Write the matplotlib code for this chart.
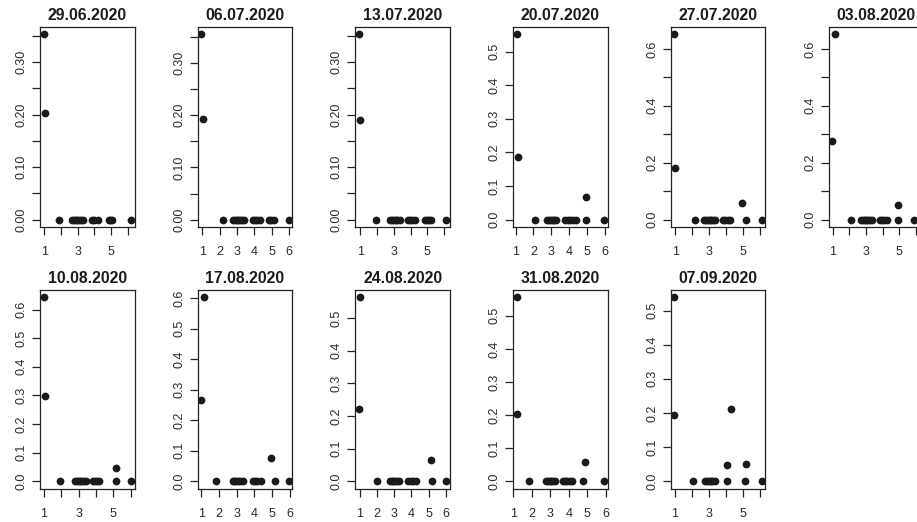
import numpy as np
import matplotlib
matplotlib.use("Agg")
import matplotlib.pyplot as plt

plt.rcParams['font.family'] = ['Liberation Sans', 'DejaVu Sans']

# one panel per week
titles = ["29.06.2020", "06.07.2020", "13.07.2020", "20.07.2020", "27.07.2020", "03.08.2020",
          "10.08.2020", "17.08.2020", "24.08.2020", "31.08.2020", "07.09.2020"]

# jittered group positions (groups 1..6) and values
x_vals = [
    [0.94, 1.04, 1.86, 2.68, 2.78, 2.88, 2.98, 3.08, 3.18, 3.30, 3.85, 3.95, 4.22, 4.85, 4.95, 5.08, 6.20],
    [0.93, 1.05, 2.20, 2.77, 2.87, 2.97, 3.07, 3.17, 3.27, 3.38, 3.91, 4.03, 4.15, 4.30, 4.82, 4.95, 5.10, 5.97],
    [0.92, 0.98, 1.96, 2.80, 2.90, 3.00, 3.10, 3.20, 3.35, 3.83, 3.95, 4.10, 4.29, 4.83, 4.95, 5.10, 5.23, 6.13],
    [1.06, 1.16, 2.07, 2.78, 2.88, 2.98, 3.08, 3.18, 3.28, 3.79, 3.92, 4.05, 4.20, 4.36, 4.94, 4.94, 5.96],
    [0.94, 0.96, 2.19, 2.72, 2.82, 2.92, 3.02, 3.12, 3.22, 3.32, 3.81, 3.95, 4.10, 4.25, 4.91, 5.15, 6.10],
    [1.12, 0.97, 2.10, 2.72, 2.82, 2.92, 3.02, 3.12, 3.22, 3.34, 3.83, 3.95, 4.10, 4.28, 4.90, 4.90, 5.90, 6.20],
    [0.98, 1.06, 1.91, 2.80, 2.90, 3.00, 3.10, 3.20, 3.30, 3.43, 3.82, 3.92, 4.05, 4.16, 5.15, 5.15, 6.01],
    [1.15, 1.00, 1.86, 2.78, 2.88, 2.98, 3.08, 3.18, 3.35, 3.95, 4.05, 4.18, 4.39, 4.96, 5.20, 5.95],
    [1.04, 0.96, 2.00, 2.76, 2.86, 2.96, 3.06, 3.16, 3.30, 3.83, 3.95, 4.10, 4.28, 5.14, 5.19, 6.03],
    [1.18, 1.18, 1.83, 2.76, 2.86, 2.96, 3.06, 3.16, 3.26, 3.67, 3.80, 3.92, 4.05, 4.17, 4.85, 4.78, 5.90],
    [0.96, 0.96, 2.03, 2.78, 2.88, 2.98, 3.08, 3.18, 3.32, 4.02, 4.02, 4.26, 5.16, 5.10, 6.08],
]
y_vals = [
    [0.353, 0.203] + [0.0] * 15,
    [0.355, 0.192] + [0.0] * 16,
    [0.353, 0.190] + [0.0] * 16,
    [0.551, 0.187] + [0.0] * 12 + [0.066, 0.0, 0.0],
    [0.651, 0.181] + [0.0] * 12 + [0.057, 0.0, 0.0],
    [0.651, 0.278] + [0.0] * 12 + [0.053, 0.0, 0.0, 0.0],
    [0.643, 0.298] + [0.0] * 12 + [0.047, 0.0, 0.0],
    [0.603, 0.266] + [0.0] * 11 + [0.077, 0.0, 0.0],
    [0.564, 0.221] + [0.0] * 11 + [0.064, 0.0, 0.0],
    [0.556, 0.204] + [0.0] * 12 + [0.058, 0.0, 0.0],
    [0.539, 0.193] + [0.0] * 7 + [0.046, 0.0, 0.211, 0.049, 0.0, 0.0],
]

# axis styling per panel (tick step, label every n-th tick, all x labels?)
y_step = [0.05, 0.05, 0.05, 0.1, 0.1, 0.1, 0.1, 0.1, 0.1, 0.1, 0.1]
y_every = [2, 2, 2, 1, 2, 2, 1, 1, 1, 1, 1]
x_all = [False, True, False, True, False, False, False, True, True, True, False]

W, H = 917, 522
fig = plt.figure(figsize=(W / 100, H / 100), dpi=100)

col_left = 40
pitch = 157.7
box_w = 94.5
rows = [(27, 227), (290, 488.5)]

for i, title in enumerate(titles):
    r, c = divmod(i, 6)
    top, bot = rows[r]
    left = col_left + c * pitch
    ax = fig.add_axes([left / W, 1 - bot / H, box_w / W, (bot - top) / H])

    x = np.array(x_vals[i])
    y = np.array(y_vals[i])
    ax.plot(x, y, 'o', color='#1a1a1a', markersize=5.6, markeredgewidth=0)

    # R style 4% padding
    xr = x.max() - x.min()
    ax.set_xlim(x.min() - 0.04 * xr, x.max() + 0.04 * xr)
    yr = y.max() - y.min()
    ax.set_ylim(y.min() - 0.04 * yr, y.max() + 0.04 * yr)

    ax.set_xticks(range(1, 7))
    ax.set_xticklabels([str(k) if (x_all[i] or k % 2 == 1) else '' for k in range(1, 7)])

    step = y_step[i]
    n = int(np.floor(y.max() / step + 1e-9))
    yt = np.arange(n + 1) * step
    dec = 2 if step < 0.1 else 1
    ax.set_yticks(yt)
    ax.set_yticklabels([f"{v:.{dec}f}" if k % y_every[i] == 0 else '' for k, v in enumerate(yt)],
                       rotation=90, va='center')

    ax.tick_params(axis='both', direction='out', length=6, width=0.9, color='#222222',
                   labelsize=9, labelcolor='#2a2a2a')
    ax.tick_params(axis='x', pad=8)
    ax.tick_params(axis='y', pad=3)
    for s in ax.spines.values():
        s.set_linewidth(0.9)
        s.set_color('#222222')

    ax.set_title(title, fontsize=11.3, fontweight='bold', color='#1a1a1a', pad=5)

fig.savefig("out.png", dpi=100)
